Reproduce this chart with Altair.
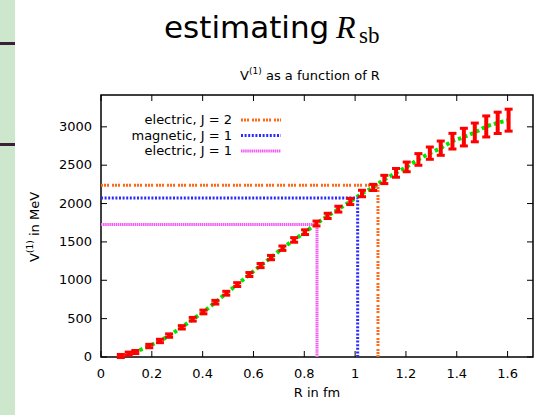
import altair as alt
import pandas as pd

# ---- data ----
R_pts = [0.078, 0.109, 0.135, 0.19, 0.232, 0.268, 0.318, 0.361, 0.403, 0.45, 0.493, 0.536,
         0.584, 0.628, 0.669, 0.714, 0.76, 0.803, 0.848, 0.892, 0.934, 0.981, 1.027, 1.071,
         1.115, 1.161, 1.203, 1.249, 1.294, 1.337, 1.383, 1.428, 1.471, 1.516, 1.561, 1.604]
V_pts = [13, 44, 65, 143, 209, 279, 387, 492, 587, 714, 831, 944,
         1075, 1192, 1296, 1418, 1526, 1627, 1740, 1839, 1927, 2027, 2131, 2210,
         2314, 2400, 2478, 2575, 2657, 2722, 2813, 2866, 2927, 3005, 3052, 3087]
E_pts = [20, 20, 20, 22, 22, 22, 22, 24, 24, 24, 25, 25,
         26, 27, 28, 29, 30, 31, 32, 34, 38, 40, 42, 40,
         54, 57, 63, 76, 80, 93, 102, 115, 122, 137, 139, 143]

thr_names = ["electric, J = 2", "magnetic, J = 1", "electric, J = 1"]
thr_R = [1.09, 1.01, 0.85]
thr_V = [2240, 2074, 1727]
thr_colors = ["#ff6a1a", "#2b2bff", "#f25cf2"]
thr_dash = [[2, 1, 2, 1, 2, 3], [2, 1.6], [1.5, 0.6]]

x_ticks = [0, 0.2, 0.4, 0.6, 0.8, 1.0, 1.2, 1.4, 1.6]
x_labels = ["0", "0.2", "0.4", "0.6", "0.8", "1", "1.2", "1.4", "1.6"]
y_ticks = [0, 500, 1000, 1500, 2000, 2500, 3000]
y_labels = ["0", "500", "1000", "1500", "2000", "2500", "3000"]

main_title = "estimating"
title_R = "R"
title_sub = "sb"
sub_V = "V"
sub_sup = "(1)"
sub_rest = "as a function of R"
x_title = "R in fm"
y_rest = "in MeV"

# ---- layout ----
W, H = 432, 262
OX, OY = 101, 95
FONT = "DejaVu Sans"

xs = alt.Scale(domain=[0, 1.7], nice=False, zero=False)
ys = alt.Scale(domain=[0, 3415], nice=False, zero=False)

df = pd.DataFrame({
    "R": R_pts,
    "V": V_pts,
    "lo": [v - e for v, e in zip(V_pts, E_pts)],
    "hi": [v + e for v, e in zip(V_pts, E_pts)],
})
one = pd.DataFrame({"a": [0]})


def X(f):
    return alt.X(f, scale=xs, axis=None, title=None)


def Y(f):
    return alt.Y(f, scale=ys, axis=None, title=None)


def txt(text, x, y, size=13, font=FONT, align="left", baseline="alphabetic", angle=0, **kw):
    props = dict(text=text, font=font, fontSize=size, align=align, baseline=baseline,
                 color="black", **kw)
    if angle:
        props["angle"] = angle
    return alt.Chart(one).mark_text(**props).encode(x=alt.value(x), y=alt.value(y))


layers = []

# left decorative strip (slide background)
layers.append(alt.Chart(one).mark_rect(color="#cde7cd").encode(
    x=alt.value(-OX), x2=alt.value(15 - OX), y=alt.value(-OY), y2=alt.value(415 - OY)))
for yy in (42, 143):
    layers.append(alt.Chart(one).mark_rect(color="#3d1f3a").encode(
        x=alt.value(-OX), x2=alt.value(15 - OX), y=alt.value(yy - OY), y2=alt.value(yy + 3 - OY)))

# fit line (green dotted)
layers.append(alt.Chart(df).mark_line(color="#00e600", strokeWidth=4, strokeDash=[3.5, 3]).encode(
    x=X("R:Q"), y=Y("V:Q")))

# threshold lines
for i in range(3):
    d = pd.DataFrame({"R": [thr_R[i]], "V": [thr_V[i]], "zero": [0.0]})
    st = dict(color=thr_colors[i], strokeWidth=3, strokeDash=thr_dash[i])
    layers.append(alt.Chart(d).mark_rule(**st).encode(x=X("zero:Q"), x2="R:Q", y=Y("V:Q")))
    layers.append(alt.Chart(d).mark_rule(**st).encode(x=X("R:Q"), y=Y("zero:Q"), y2="V:Q"))

# error bars
layers.append(alt.Chart(df).mark_rule(color="#ff0000", strokeWidth=4).encode(
    x=X("R:Q"), y=Y("lo:Q"), y2="hi:Q"))
for f in ("lo", "hi"):
    layers.append(alt.Chart(df).mark_tick(color="#ff0000", thickness=3, size=8,
                                          orient="horizontal", opacity=1).encode(
        x=X("R:Q"), y=Y(f + ":Q")))

# inward ticks on all four sides
tx = pd.DataFrame({"t": x_ticks, "lab": x_labels})
ty = pd.DataFrame({"t": y_ticks, "lab": y_labels})
layers.append(alt.Chart(tx).mark_rule(color="black", strokeWidth=1).encode(
    x=X("t:Q"), y=alt.value(H), y2=alt.value(H - 6)))
layers.append(alt.Chart(tx).mark_rule(color="black", strokeWidth=1).encode(
    x=X("t:Q"), y=alt.value(0), y2=alt.value(6)))
layers.append(alt.Chart(ty).mark_rule(color="black", strokeWidth=1).encode(
    y=Y("t:Q"), x=alt.value(0), x2=alt.value(6)))
layers.append(alt.Chart(ty).mark_rule(color="black", strokeWidth=1).encode(
    y=Y("t:Q"), x=alt.value(W), x2=alt.value(W - 6)))

# tick labels
layers.append(alt.Chart(tx).mark_text(font=FONT, fontSize=13, align="center",
                                      baseline="alphabetic", color="black").encode(
    x=X("t:Q"), y=alt.value(H + 21), text="lab:N"))
layers.append(alt.Chart(ty).mark_text(font=FONT, fontSize=13, align="right",
                                      baseline="middle", color="black").encode(
    y=Y("t:Q"), x=alt.value(-9), text="lab:N"))

# legend (inside, top-left)
leg_y = [25, 40.5, 56]
for i in range(3):
    layers.append(txt(thr_names[i], 131, leg_y[i], align="right", baseline="middle"))
    layers.append(alt.Chart(one).mark_rule(color=thr_colors[i], strokeWidth=3,
                                           strokeDash=thr_dash[i]).encode(
        x=alt.value(140), x2=alt.value(180), y=alt.value(leg_y[i])))

# slide title
layers.append(txt(main_title, 164 - OX, 38 - OY, size=31))
layers.append(txt(title_R, 336 - OX, 38 - OY, size=32, font="Liberation Serif",
                  fontStyle="italic"))
layers.append(txt(title_sub, 359 - OX, 43 - OY, size=23, font="Liberation Serif"))

# plot title  V^(1) as a function of R
sx = 240 - OX
layers.append(txt(sub_V, sx, 80 - OY))
layers.append(txt(sub_sup, sx + 9, 74 - OY, size=9))
layers.append(txt(sub_rest, sx + 26, 80 - OY))

# x title
layers.append(txt(x_title, W / 2, 397 - OY, align="center"))

# y title (rotated)  V^(1) in MeV
bx = 38.5 - OX
layers.append(txt(sub_V, bx, 262 - OY, angle=270))
layers.append(txt(sub_sup, bx - 5.5, 253 - OY, size=9, angle=270))
layers.append(txt(y_rest, bx, 236 - OY, angle=270))

chart = alt.layer(*layers).properties(
    width=W, height=H,
    autosize=alt.AutoSizeParams(type="none"),
    padding={"left": OX, "top": OY, "right": 550 - OX - W, "bottom": 415 - OY - H},
    background="white",
).configure_view(stroke="black", strokeWidth=1.5)

chart.save("out.html", embed_options={"renderer": "svg", "actions": False})
